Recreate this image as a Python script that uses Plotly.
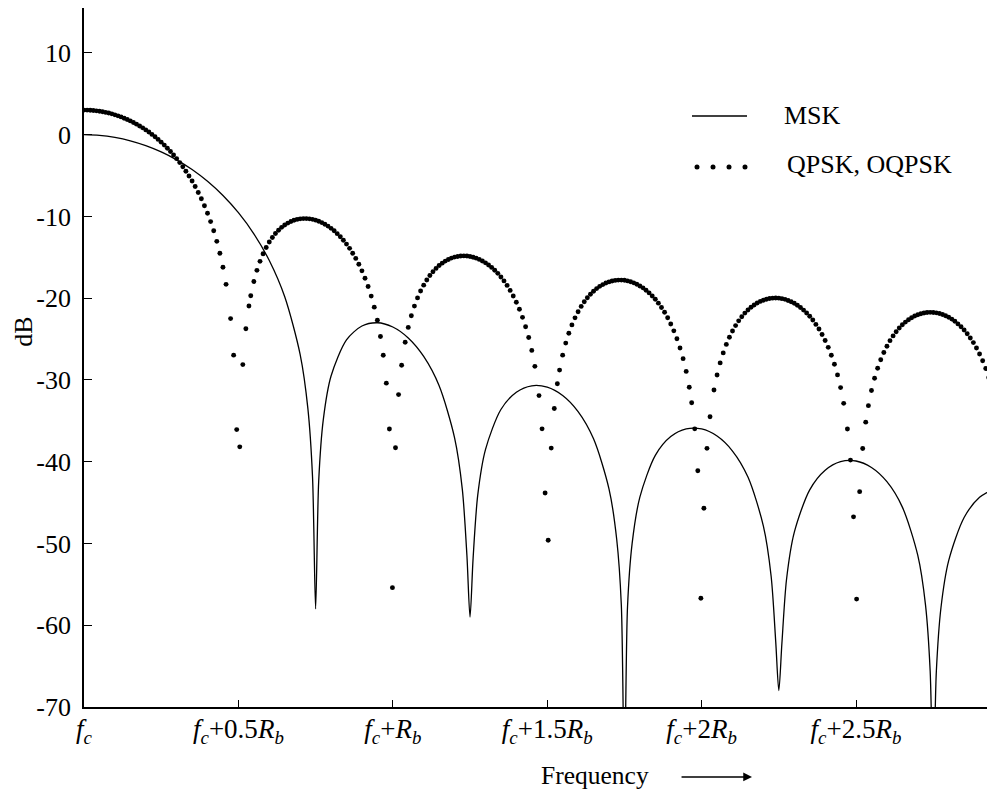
import plotly.graph_objects as go

# ---------------- data (frequency offset in units of Rb, level in dB) ----------------
msk_x = [0, 0.05, 0.1, 0.15, 0.2, 0.25, 0.3, 0.35, 0.4, 0.45, 0.5, 0.55, 0.6, 0.65, 0.7, 0.725, 0.74,
         0.75, 0.76, 0.775, 0.8, 0.85, 0.9, 0.95, 1.0, 1.05, 1.1, 1.15, 1.2, 1.225, 1.24,
         1.25, 1.26, 1.275, 1.3, 1.35, 1.4, 1.45, 1.5, 1.55, 1.6, 1.65, 1.7, 1.725, 1.74,
         1.75, 1.76, 1.775, 1.8, 1.85, 1.9, 1.95, 2.0, 2.05, 2.1, 2.15, 2.2, 2.225, 2.24,
         2.25, 2.26, 2.275, 2.3, 2.35, 2.4, 2.45, 2.5, 2.55, 2.6, 2.65, 2.7, 2.725, 2.74,
         2.75, 2.76, 2.775, 2.8, 2.85, 2.9, 2.95]
msk_db = [0.0, -0.08, -0.33, -0.74, -1.33, -2.10, -3.07, -4.26, -5.70, -7.44, -9.54, -12.12, -15.39, -19.82, -26.90, -33.51, -41.84,
          -58.0, -42.36, -34.81, -29.51, -25.09, -23.40, -23.00, -23.52, -24.86, -27.12, -30.71, -37.07, -43.35, -51.5,
          -59.0, -51.79, -44.08, -38.51, -33.61, -31.49, -30.71, -30.88, -31.90, -33.87, -37.20, -43.31, -49.48, -57.57,
          -80.0, -57.77, -49.99, -44.33, -39.22, -36.92, -35.98, -35.99, -36.86, -38.69, -41.88, -47.87, -53.98, -62.03,
          -68.0, -62.18, -54.37, -48.65, -43.44, -41.04, -39.99, -39.91, -40.70, -42.44, -45.55, -51.46, -57.54, -65.56,
          -80.0, -65.69, -57.86, -52.10, -46.82, -44.35, -43.25]

# QPSK / OQPSK dotted spectrum, read lobe by lobe
qpsk_lobe1_x = [0.00, 0.01, 0.02, 0.03, 0.04, 0.05, 0.06, 0.07, 0.08, 0.09, 0.10, 0.11, 0.12, 0.13, 0.14, 0.15,
                0.16, 0.17, 0.18, 0.19, 0.20, 0.21, 0.22, 0.23, 0.24, 0.25, 0.26, 0.27, 0.28, 0.29, 0.30, 0.31,
                0.32, 0.33, 0.34, 0.35, 0.36, 0.37, 0.38, 0.39, 0.40, 0.41, 0.42, 0.43, 0.44, 0.45, 0.46]
qpsk_lobe1_db = [3.01, 3.01, 2.99, 2.96, 2.92, 2.87, 2.81, 2.73, 2.65, 2.55, 2.43, 2.31, 2.18, 2.02, 1.87, 1.69,
                 1.50, 1.29, 1.07, 0.84, 0.59, 0.33, 0.04, -0.25, -0.57, -0.91, -1.27, -1.65, -2.05, -2.48, -2.93, -3.41,
                 -3.92, -4.47, -5.05, -5.67, -6.34, -7.06, -7.84, -8.68, -9.61, -10.63, -11.75, -13.04, -14.50, -16.21, -18.30]
qpsk_null1_x = [0.4747, 0.4846, 0.4945, 0.5044, 0.5143, 0.5242, 0.5341]
qpsk_null1_db = [-22.49, -26.96, -36.07, -38.18, -28.12, -23.74, -20.95]

qpsk_lobe2_x = [0.54, 0.55, 0.56, 0.57, 0.58, 0.59, 0.60, 0.61, 0.62, 0.63, 0.64, 0.65, 0.66, 0.67, 0.68, 0.69,
                0.70, 0.71, 0.72, 0.73, 0.74, 0.75, 0.76, 0.77, 0.78, 0.79, 0.80, 0.81, 0.82, 0.83, 0.84, 0.85,
                0.86, 0.87, 0.88, 0.89, 0.90, 0.91, 0.92, 0.93, 0.94, 0.95, 0.96]
qpsk_lobe2_db = [-19.69, -17.96, -16.59, -15.49, -14.56, -13.79, -13.13, -12.57, -12.09, -11.69, -11.33, -11.05,
                 -10.81, -10.62, -10.47, -10.36, -10.29, -10.26, -10.26, -10.29, -10.35, -10.45, -10.59, -10.75,
                 -10.95, -11.18, -11.45, -11.75, -12.10, -12.48, -12.91, -13.38, -13.90, -14.49, -15.13, -15.85,
                 -16.65, -17.55, -18.57, -19.74, -21.09, -22.70, -24.69]
qpsk_null2_x = [0.9691, 0.9790, 0.9889, 0.9988, 1.0087, 1.0186, 1.0285]
qpsk_null2_db = [-26.98, -30.39, -36.00, -55.40, -38.29, -31.79, -28.20]

qpsk_lobe3_x = [1.04, 1.05, 1.06, 1.07, 1.08, 1.09, 1.10, 1.11, 1.12, 1.13, 1.14, 1.15, 1.16, 1.17, 1.18, 1.19,
                1.20, 1.21, 1.22, 1.23, 1.24, 1.25, 1.26, 1.27, 1.28, 1.29, 1.30, 1.31, 1.32, 1.33, 1.34, 1.35,
                1.36, 1.37, 1.38, 1.39, 1.40, 1.41, 1.42, 1.43, 1.44, 1.45, 1.46]
qpsk_lobe3_db = [-25.38, -23.57, -22.14, -20.96, -19.96, -19.12, -18.40, -17.77, -17.22, -16.76, -16.35, -16.00,
                 -15.71, -15.46, -15.26, -15.09, -14.97, -14.89, -14.84, -14.82, -14.84, -14.89, -14.98, -15.10,
                 -15.25, -15.44, -15.67, -15.93, -16.23, -16.58, -16.96, -17.40, -17.88, -18.43, -19.04, -19.72,
                 -20.49, -21.35, -22.34, -23.48, -24.80, -26.38, -28.33]
qpsk_null3_x = [1.4734, 1.4833, 1.4932, 1.5031, 1.5130, 1.5229, 1.5328]
qpsk_null3_db = [-31.91, -35.98, -43.83, -49.60, -38.33, -33.49, -30.46]

qpsk_lobe4_x = [1.54, 1.55, 1.56, 1.57, 1.58, 1.59, 1.60, 1.61, 1.62, 1.63, 1.64, 1.65, 1.66, 1.67, 1.68, 1.69,
                1.70, 1.71, 1.72, 1.73, 1.74, 1.75, 1.76, 1.77, 1.78, 1.79, 1.80, 1.81, 1.82, 1.83, 1.84, 1.85,
                1.86, 1.87, 1.88, 1.89, 1.90, 1.91, 1.92, 1.93, 1.94, 1.95, 1.96]
qpsk_lobe4_db = [-28.79, -26.96, -25.49, -24.29, -23.26, -22.40, -21.65, -21.00, -20.43, -19.94, -19.51, -19.14,
                 -18.82, -18.55, -18.33, -18.14, -18.00, -17.89, -17.82, -17.78, -17.78, -17.81, -17.88, -17.98,
                 -18.12, -18.29, -18.50, -18.73, -19.02, -19.35, -19.72, -20.13, -20.60, -21.14, -21.72, -22.39,
                 -23.15, -23.99, -24.96, -26.08, -27.39, -28.95, -30.89]
qpsk_null4_x = [1.9678, 1.9777, 1.9876, 1.9975, 2.0074, 2.0173, 2.0272]
qpsk_null4_db = [-32.78, -35.98, -41.10, -56.70, -45.69, -38.36, -34.49]

qpsk_lobe5_x = [2.04, 2.05, 2.06, 2.07, 2.08, 2.09, 2.10, 2.11, 2.12, 2.13, 2.14, 2.15, 2.16, 2.17, 2.18, 2.19,
                2.20, 2.21, 2.22, 2.23, 2.24, 2.25, 2.26, 2.27, 2.28, 2.29, 2.30, 2.31, 2.32, 2.33, 2.34, 2.35,
                2.36, 2.37, 2.38, 2.39, 2.40, 2.41, 2.42, 2.43, 2.44, 2.45, 2.46]
qpsk_lobe5_db = [-31.23, -29.39, -27.91, -26.69, -25.65, -24.77, -24.01, -23.35, -22.77, -22.27, -21.82, -21.44,
                 -21.11, -20.83, -20.59, -20.39, -20.24, -20.12, -20.04, -19.99, -19.97, -19.99, -20.05, -20.14,
                 -20.27, -20.43, -20.62, -20.85, -21.13, -21.45, -21.80, -22.21, -22.67, -23.20, -23.77, -24.43,
                 -25.17, -26.01, -26.97, -28.08, -29.38, -30.93, -32.86]
qpsk_null5_x = [2.4721, 2.4820, 2.4919, 2.5018, 2.5117, 2.5216, 2.5314]
qpsk_null5_db = [-35.99, -39.80, -46.74, -56.80, -43.66, -38.38, -35.16]

qpsk_lobe6_x = [2.54, 2.55, 2.56, 2.57, 2.58, 2.59, 2.60, 2.61, 2.62, 2.63, 2.64, 2.65, 2.66, 2.67, 2.68, 2.69,
                2.70, 2.71, 2.72, 2.73, 2.74, 2.75, 2.76, 2.77, 2.78, 2.79, 2.80, 2.81, 2.82, 2.83, 2.84, 2.85,
                2.86, 2.87, 2.88, 2.89, 2.90, 2.91, 2.92, 2.93, 2.94, 2.95]
qpsk_lobe6_db = [-33.14, -31.28, -29.79, -28.57, -27.52, -26.64, -25.87, -25.19, -24.61, -24.10, -23.64, -23.25,
                 -22.92, -22.63, -22.38, -22.18, -22.02, -21.89, -21.80, -21.74, -21.73, -21.74, -21.79, -21.87,
                 -21.99, -22.14, -22.33, -22.55, -22.82, -23.14, -23.49, -23.89, -24.34, -24.86, -25.43, -26.08,
                 -26.82, -27.65, -28.60, -29.71, -31.00, -32.55]

x_tick_vals = [0, 0.5, 1.0, 1.5, 2.0, 2.5]
x_tick_text = ["<i>f<sub>c</sub></i>",
               "<i>f<sub>c</sub></i>+0.5<i>R<sub>b</sub></i>",
               "<i>f<sub>c</sub></i>+<i>R<sub>b</sub></i>",
               "<i>f<sub>c</sub></i>+1.5<i>R<sub>b</sub></i>",
               "<i>f<sub>c</sub></i>+2<i>R<sub>b</sub></i>",
               "<i>f<sub>c</sub></i>+2.5<i>R<sub>b</sub></i>"]
y_tick_vals = [10, 0, -10, -20, -30, -40, -50, -60, -70]
y_tick_text = ["10", "0", "-10", "-20", "-30", "-40", "-50", "-60", "-70"]

series_names = ["MSK", "QPSK, OQPSK"]

# ---------------- figure ----------------
qpsk_x = (qpsk_lobe1_x + qpsk_null1_x + qpsk_lobe2_x + qpsk_null2_x + qpsk_lobe3_x + qpsk_null3_x
          + qpsk_lobe4_x + qpsk_null4_x + qpsk_lobe5_x + qpsk_null5_x + qpsk_lobe6_x)
qpsk_db = (qpsk_lobe1_db + qpsk_null1_db + qpsk_lobe2_db + qpsk_null2_db + qpsk_lobe3_db + qpsk_null3_db
           + qpsk_lobe4_db + qpsk_null4_db + qpsk_lobe5_db + qpsk_null5_db + qpsk_lobe6_db)

FONT = "Liberation Serif"

fig = go.Figure()
fig.add_trace(go.Scatter(x=msk_x, y=msk_db, mode="lines", name=series_names[0],
                         line=dict(color="black", width=1.3, shape="spline", smoothing=0.8)))
fig.add_trace(go.Scatter(x=qpsk_x, y=qpsk_db, mode="markers", name=series_names[1],
                         marker=dict(color="black", size=4.9, symbol="circle", line=dict(width=0))))

# the page body adds an 8 px offset; margins compensate so the plot area spans x 84..995, y 8..707
fig.update_layout(
    width=995, height=791,
    margin=dict(l=76, r=8, t=0, b=92, autoexpand=False),
    paper_bgcolor="white", plot_bgcolor="white",
    showlegend=False,
    font=dict(family=FONT, size=26, color="black"),
)
fig.update_xaxes(range=[0, 2.95], showgrid=False, zeroline=False,
                 showline=True, linecolor="black", linewidth=1.6,
                 ticks="inside", ticklen=7, tickwidth=1.3, tickcolor="black",
                 tickvals=x_tick_vals, ticktext=x_tick_text, ticklabelstandoff=-3,
                 tickfont=dict(family=FONT, size=27))
fig.update_yaxes(range=[-70, 15.5], showgrid=False, zeroline=False,
                 showline=True, linecolor="black", linewidth=1.6,
                 ticks="inside", ticklen=8, tickwidth=1.3, tickcolor="black",
                 tickvals=y_tick_vals, ticktext=y_tick_text, ticklabelstandoff=6,
                 tickfont=dict(family=FONT, size=26))

# axis titles
fig.add_annotation(text="dB", xref="paper", yref="paper", x=-0.066, y=0.5365,
                   xanchor="center", yanchor="middle", borderpad=0,
                   textangle=-90, showarrow=False, font=dict(family=FONT, size=26))
fig.add_annotation(text="Frequency", xref="paper", yref="paper", x=0.5604, y=-0.0973,
                   xanchor="center", yanchor="middle",
                   showarrow=False, font=dict(family=FONT, size=25.5))
fig.add_annotation(text="", xref="paper", yref="paper", x=0.7333, y=-0.1001,
                   ax=-72, ay=0, showarrow=True, arrowhead=2, arrowsize=1.1,
                   arrowwidth=1.6, arrowcolor="black")

# legend (drawn as a key in the upper right)
fig.add_shape(type="line", xref="paper", yref="paper", x0=0.6674, x1=0.7278, y0=0.8455, y1=0.8455,
              line=dict(color="black", width=1.3))
fig.add_annotation(text=series_names[0], xref="paper", yref="paper", x=0.7662, y=0.8455,
                   xanchor="left", yanchor="middle", showarrow=False, font=dict(family=FONT, size=26))
for px in [697, 713, 729, 745]:
    fig.add_shape(type="circle", xref="paper", yref="paper", xsizemode="pixel", ysizemode="pixel",
                  xanchor=(px - 84) / 911, yanchor=0.7725, x0=-2.5, x1=2.5, y0=-2.5, y1=2.5,
                  fillcolor="black", line=dict(width=0))
fig.add_annotation(text=series_names[1], xref="paper", yref="paper", x=0.7695, y=0.7754,
                   xanchor="left", yanchor="middle", showarrow=False, font=dict(family=FONT, size=26))

fig.write_html("out.html")
